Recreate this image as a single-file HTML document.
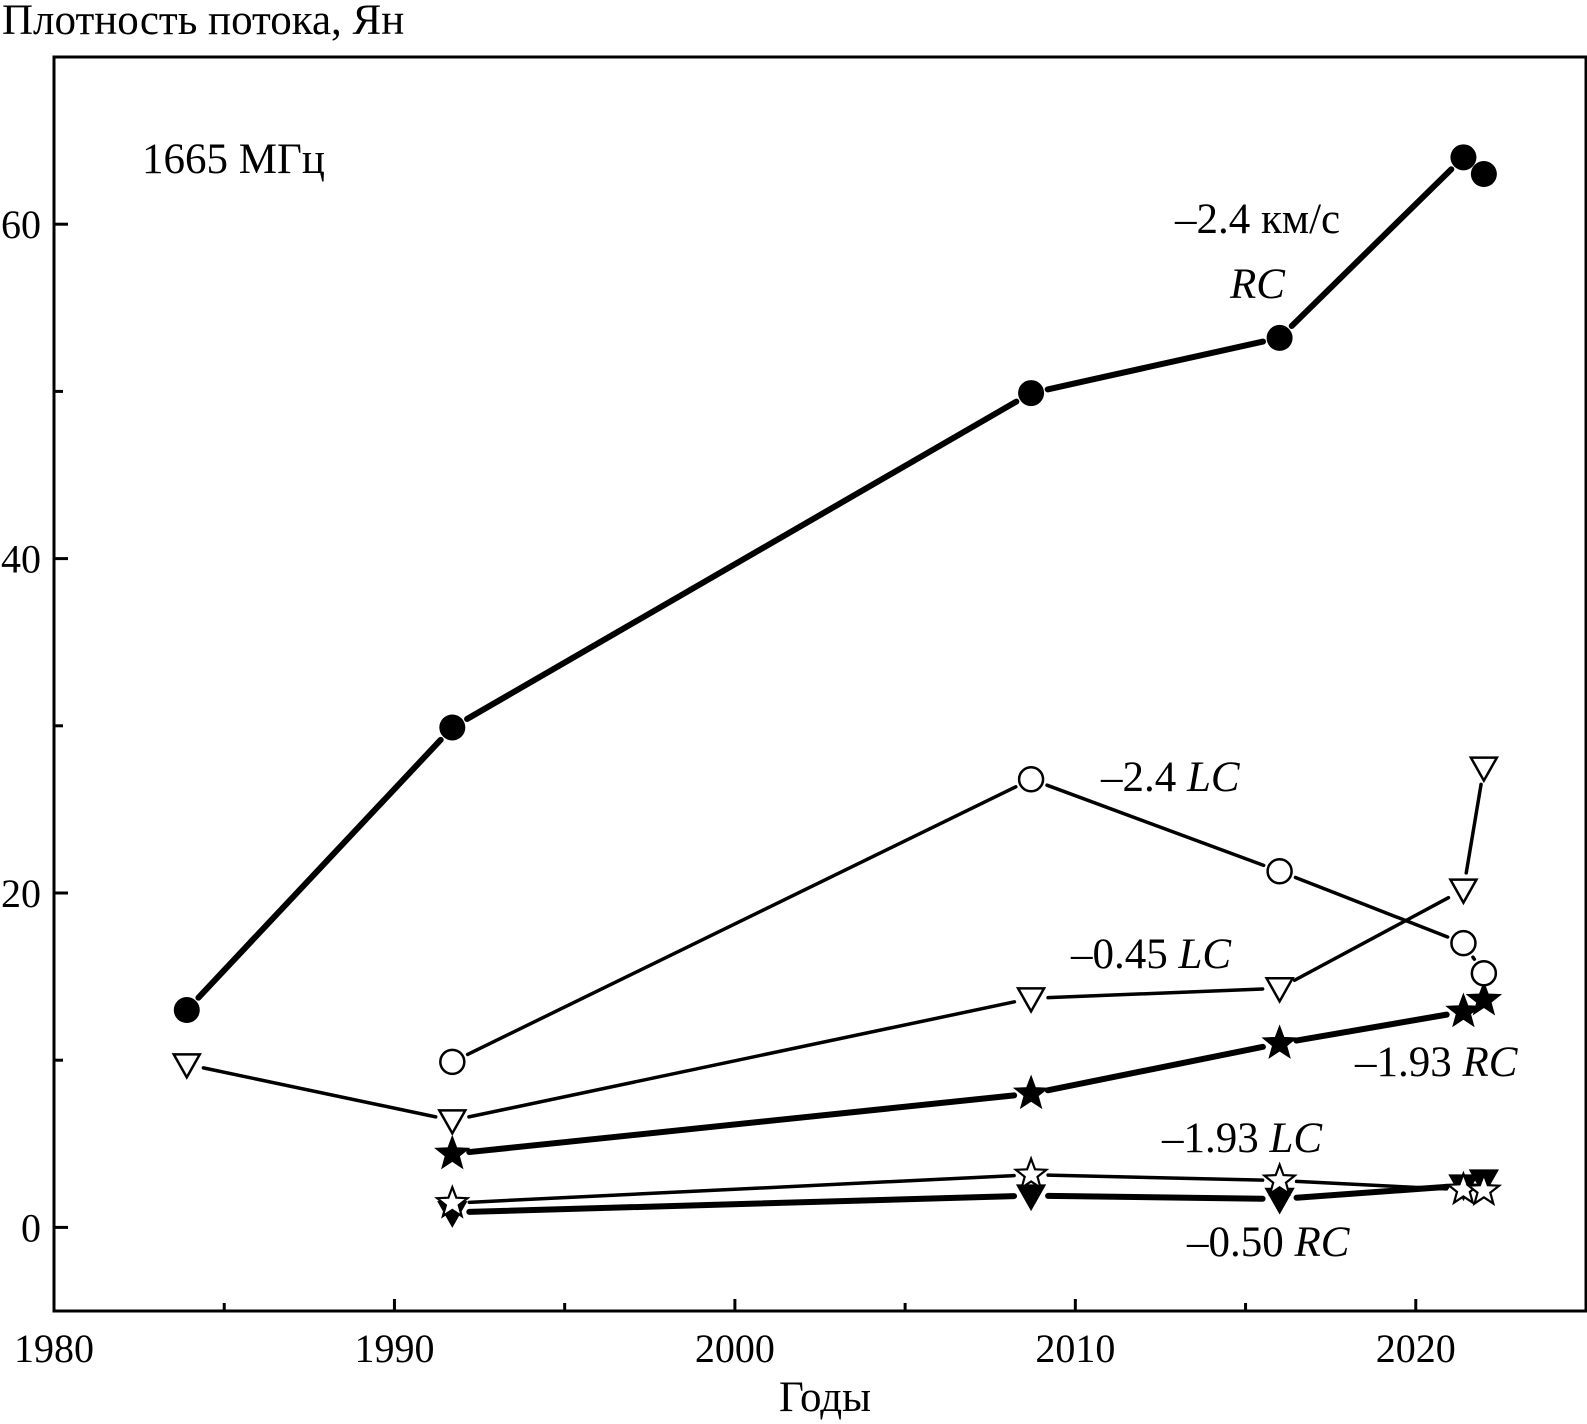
<!DOCTYPE html>
<html><head><meta charset="utf-8"><style>
html,body{margin:0;padding:0;background:#fff;}
svg{display:block;font-family:"Liberation Serif",serif;}
</style></head><body>
<svg id="chart" width="1587" height="1424" viewBox="0 0 1587 1424" xmlns="http://www.w3.org/2000/svg">
<text x="2" y="34" font-size="43">Плотность потока, Ян</text>
<rect x="54" y="57" width="1532" height="1254" fill="none" stroke="#000" stroke-width="3"/>
<g id="axes"></g>
<g id="series"></g>
<text x="142" y="173" font-size="43">1665 МГц</text>
<text x="1175" y="233" font-size="43">–2.4 км/с</text>
<text x="1230" y="298" font-size="43" font-style="italic">RC</text>
<text x="1101" y="791" font-size="43">–2.4 <tspan font-style="italic">LC</tspan></text>
<text x="1071" y="968" font-size="43">–0.45 <tspan font-style="italic">LC</tspan></text>
<text x="1355" y="1076" font-size="43">–1.93 <tspan font-style="italic">RC</tspan></text>
<text x="1162" y="1152" font-size="43">–1.93 <tspan font-style="italic">LC</tspan></text>
<text x="1187" y="1256" font-size="43">–0.50 <tspan font-style="italic">RC</tspan></text>
<text x="825" y="1411" font-size="43" text-anchor="middle">Годы</text>
</svg>
<script>
const years = [1983.9, 1991.7, 2008.7, 2016.0, 2021.4, 2022.0];
const yearsShort = [1991.7, 2008.7, 2016.0, 2021.4, 2022.0];
const rc24 = [13.0, 29.9, 49.9, 53.2, 64.0, 63.0];
const lc24 = [9.9, 26.8, 21.3, 17.0, 15.2];
const lc045 = [9.75, 6.4, 13.7, 14.3, 20.2, 27.5];
const rc193 = [4.4, 8.0, 11.0, 12.9, 13.6];
const lc193 = [1.45, 3.15, 2.8, 2.25, 2.2];
const rc050 = [0.9, 1.9, 1.7, 2.5, 2.8];
const xTicks = [1980, 1990, 2000, 2010, 2020];
const xMinor = [1985, 1995, 2005, 2015];
const yTicks = [0, 20, 40, 60];
const yMinor = [10, 30, 50];

const NS = 'http://www.w3.org/2000/svg';
const X0 = 54, X1 = 1586, Y0 = 57, Y1 = 1311;
function xs(v){ return X0 + (v - 1980) / 45 * (X1 - X0); }
function ys(v){ return Y1 - (v + 5) / 75 * (Y1 - Y0); }
function mk(tag, attrs, parent){ const e = document.createElementNS(NS, tag); for (const k in attrs) e.setAttribute(k, attrs[k]); parent.appendChild(e); return e; }

const axes = document.getElementById('axes');
xTicks.forEach(t => {
  const l = mk('line', {x1: xs(t), x2: xs(t), y1: Y1, y2: Y1 - 12, stroke: '#000', 'stroke-width': 3}, axes);
  
  
  const tx = mk('text', {x: xs(t), y: 1362, 'font-size': 40, 'text-anchor': 'middle'}, axes);
  tx.textContent = t;
  
  
});
xMinor.forEach(t => {
  const l = mk('line', {x1: xs(t), x2: xs(t), y1: Y1, y2: Y1 - 8, stroke: '#000', 'stroke-width': 3}, axes);
  
  
});
yTicks.forEach(t => {
  const l = mk('line', {x1: X0, x2: X0 + 14, y1: ys(t), y2: ys(t), stroke: '#000', 'stroke-width': 3}, axes);
  
  
  const tx = mk('text', {x: 41, y: ys(t) + 14, 'font-size': 40, 'text-anchor': 'end'}, axes);
  tx.textContent = t;
  
  
});
yMinor.forEach(t => {
  const l = mk('line', {x1: X0, x2: X0 + 9, y1: ys(t), y2: ys(t), stroke: '#000', 'stroke-width': 3}, axes);
  
  
});

const ser = document.getElementById('series');
function starPts(cx, cy, R){ const r = R * 0.42; let p = []; for (let i = 0; i < 10; i++){ const a = -Math.PI/2 + i*Math.PI/5; const rr = i%2 ? r : R; p.push((cx + rr*Math.cos(a)).toFixed(1) + ',' + (cy + rr*Math.sin(a)).toFixed(1)); } return p.join(' '); }
function marker(kind, cx, cy, g){
  let e;
  if (kind === 'circ-f') e = mk('circle', {cx, cy, r: 13, fill: '#000'}, g);
  else if (kind === 'circ-o') e = mk('circle', {cx, cy, r: 12, fill: '#fff', stroke: '#000', 'stroke-width': 2.5}, g);
  else if (kind === 'tri-o' || kind === 'tri-f') e = mk('polygon', {points: `${cx-13},${cy-10} ${cx+13},${cy-10} ${cx},${cy+13}`, fill: kind === 'tri-f' ? '#000' : '#fff', stroke: '#000', 'stroke-width': 2.5, 'stroke-linejoin': 'miter'}, g);
  else e = mk('polygon', {points: starPts(cx, cy, 16), fill: kind === 'star-f' ? '#000' : '#fff', stroke: '#000', 'stroke-width': 2.2}, g);
  
  
}
function series(name, xv, yv, kind, width){
  const g = mk('g', {}, ser);
  
  
  const pts = xv.map((x, i) => [xs(x), ys(yv[i])]);
  for (let i = 0; i < pts.length - 1; i++){
    const [ax, ay] = pts[i], [bx, by] = pts[i+1];
    const dx = bx - ax, dy = by - ay, L = Math.hypot(dx, dy), gap = 17;
    if (L < 2*gap + 2) continue;
    const ux = dx/L, uy = dy/L;
    const l = mk('line', {x1: ax + ux*gap, y1: ay + uy*gap, x2: bx - ux*gap, y2: by - uy*gap, stroke: '#000', 'stroke-width': width, 'stroke-linecap': 'round'}, g);
    
    
  }
  pts.forEach(p => marker(kind, p[0], p[1], g));
}
series('series-0.50-rc', yearsShort, rc050, 'tri-f', 6);
series('series-1.93-lc', yearsShort, lc193, 'star-o', 3.5);
series('series-1.93-rc', yearsShort, rc193, 'star-f', 6);
series('series-0.45-lc', years, lc045, 'tri-o', 3.5);
series('series-2.4-lc', yearsShort, lc24, 'circ-o', 3.5);
series('series-2.4-rc', years, rc24, 'circ-f', 6);
</script>
</body></html>
